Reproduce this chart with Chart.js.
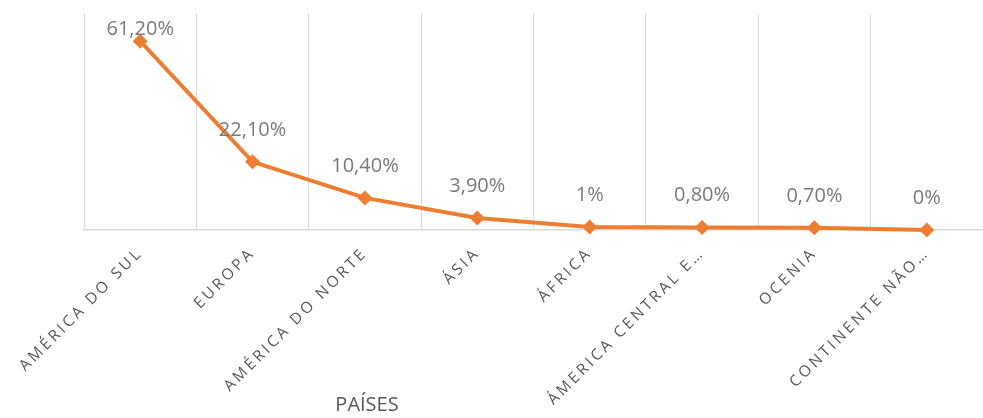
<!DOCTYPE html>
<html>
<head>
<meta charset="utf-8">
<script src="https://cdn.jsdelivr.net/npm/chart.js@4/dist/chart.umd.min.js"></script>
<style>
  html, body { margin: 0; padding: 0; background: #fff; overflow: hidden; }
  canvas { display: block; }
</style>
</head>
<body>
<canvas id="chart" width="983" height="418"></canvas>
<script>
const categories = ['AMÉRICA DO SUL', 'EUROPA', 'AMÉRICA DO NORTE', 'ÁSIA', 'ÁFRICA', 'ÁMERICA CENTRAL E…', 'OCENIA', 'CONTINENTE NÃO…'];
const values = [61.2, 22.1, 10.4, 3.9, 1, 0.8, 0.7, 0];
const valueLabels = ['61,20%', '22,10%', '10,40%', '3,90%', '1%', '0,80%', '0,70%', '0%'];
const axisTitle = 'PAÍSES';

const orange = '#ED7D31';
const grey = '#d9d9d9';

// draws the value above each point and the axis title
const labelPlugin = {
    id: 'labels',
    beforeDraw(chart) {
        chart.ctx.letterSpacing = '3px';
    },
    beforeDatasetsDraw(chart) {
        chart.ctx.letterSpacing = '0px';
    },
    afterDatasetsDraw(chart) {
        const ctx = chart.ctx;
        const meta = chart.getDatasetMeta(0);
        ctx.save();
        ctx.letterSpacing = '0px';
        ctx.font = '20px "Open Sans", sans-serif';
        ctx.fillStyle = '#7a7a7a';
        ctx.textAlign = 'center';
        ctx.textBaseline = 'middle';
        meta.data.forEach((pt, i) => {
            const y = Math.max(pt.y - 32, chart.chartArea.top + 15);
            ctx.fillText(valueLabels[i], pt.x, y);
        });
        ctx.font = '20px "Open Sans", sans-serif';
        ctx.fillStyle = '#595959';
        ctx.fillText(axisTitle, chart.chartArea.left + 283, chart.chartArea.bottom + 175);
        ctx.restore();
    }
};

const ctx = document.getElementById('chart').getContext('2d');
new Chart(ctx, {
    type: 'line',
    data: {
        labels: categories,
        datasets: [{
            data: values,
            borderColor: orange,
            backgroundColor: orange,
            borderWidth: 4,
            pointStyle: 'rectRot',
            pointRadius: 7.5,
            pointHoverRadius: 7.5,
            pointBorderWidth: 0,
            tension: 0,
            clip: false,
        }],
    },
    options: {
        responsive: false,
        animation: false,
        layout: { autoPadding: false, padding: { left: 84, top: 14, right: 0, bottom: 0 } },
        plugins: {
            legend: { display: false },
            tooltip: { enabled: false },
        },
        scales: {
            x: {
                offset: true,
                grid: {
                    offset: true,
                    color: grey,
                    lineWidth: 1,
                    drawTicks: false,
                },
                border: { color: grey, width: 1.5 },
                ticks: {
                    minRotation: 45,
                    maxRotation: 45,
                    autoSkip: false,
                    padding: 14,
                    color: '#595959',
                    font: { family: '"Open Sans", sans-serif', size: 15.5 },
                },
                afterFit(scale) {
                    scale.height = 188;
                    scale.paddingLeft = 0;
                    scale.paddingRight = 0;
                },
            },
            y: {
                display: false,
                min: 0,
                max: 70,
            },
        },
    },
    plugins: [labelPlugin],
});
</script>
</body>
</html>
